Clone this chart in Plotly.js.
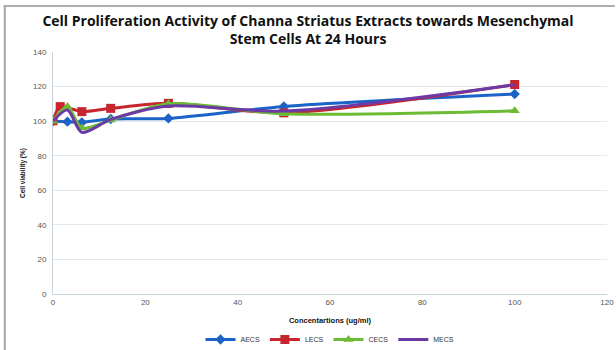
<!DOCTYPE html>
<html>
<head>
<meta charset="utf-8">
<script src="https://cdn.plot.ly/plotly-3.0.1.min.js"></script>
<style>
  html, body { margin: 0; padding: 0; background: #fff; }
  #chart { width: 616px; height: 350px; }
</style>
</head>
<body>
<div id="chart"></div>
<script>
// Concentrations (ug/ml) and cell viability (%) per extract
const aecsX = [0, 3.125, 6.25, 12.5, 25, 50, 100];
const aecsY = [100, 99.7, 99.3, 101.2, 101.6, 108.5, 115.7];

const lecsX = [0, 1.5625, 6.25, 12.5, 25, 50, 100];
const lecsY = [100.2, 108.4, 105.5, 107.4, 110.3, 104.8, 121.2];

const cecsX = [0, 3.125, 6.25, 12.5, 25, 50, 100];
const cecsY = [100, 108.4, 96, 100.6, 110, 104.3, 106];

const mecsX = [0, 3.125, 6.25, 12.5, 25, 50, 100];
const mecsY = [100, 106.5, 93.5, 101, 108.7, 105.8, 121];

const xTicks = [0, 20, 40, 60, 80, 100, 120];
const yTicks = [0, 20, 40, 60, 80, 100, 120, 140];

const seriesNames = ['AECS', 'LECS', 'CECS', 'MECS'];
const seriesColors = ['#1b63c6', '#c8262e', '#6cbb35', '#6b3aa6'];

function series(name, x, y, color, symbol, size) {
  const trace = {
    type: 'scatter',
    mode: symbol ? 'lines+markers' : 'lines',
    name: name,
    x: x,
    y: y,
    line: { color: color, width: 3, shape: 'spline', smoothing: 0.8 }
  };
  if (symbol) trace.marker = { symbol: symbol, size: size, color: color };
  return trace;
}

const data = [
  series(seriesNames[0], aecsX, aecsY, seriesColors[0], 'diamond', 8),
  series(seriesNames[1], lecsX, lecsY, seriesColors[1], 'square', 9),
  series(seriesNames[2], cecsX, cecsY, seriesColors[2], 'triangle-up', 9),
  series(seriesNames[3], mecsX, mecsY, seriesColors[3], null, 0)
];

const tickFont = { family: 'Liberation Sans, Arial, sans-serif', size: 8, color: '#555' };
const frameColor = '#a9adb1';

const layout = {
  width: 616,
  height: 350,
  margin: { l: 53, r: 9, t: 52, b: 56 },
  paper_bgcolor: '#ffffff',
  plot_bgcolor: '#ffffff',
  title: {
    text: '<b>Cell Proliferation Activity of Channa Striatus Extracts towards Mesenchymal<br>Stem Cells At 24 Hours</b>',
    font: { family: 'Open Sans, Lato, sans-serif', size: 14, color: '#111' },
    x: 0.5,
    xanchor: 'center',
    yref: 'container',
    y: 0.926,
    yanchor: 'middle'
  },
  xaxis: {
    range: [0, 120],
    tickvals: xTicks,
    ticktext: xTicks.map(String),
    showgrid: false,
    zeroline: false,
    showline: true,
    linecolor: '#c8d4dc',
    linewidth: 1,
    ticks: '',
    automargin: false,
    tickfont: tickFont,
    title: {
      text: '<b>Concentartions (ug/ml)</b>',
      font: { family: 'Liberation Sans, Arial, sans-serif', size: 7.5, color: '#111' },
      standoff: 12
    }
  },
  yaxis: {
    range: [0, 140],
    tickvals: yTicks,
    ticktext: yTicks.map(String),
    showgrid: true,
    gridcolor: '#e3e8ec',
    gridwidth: 1,
    zeroline: false,
    showline: true,
    linecolor: '#c8d4dc',
    linewidth: 1,
    ticks: '',
    automargin: false,
    ticklabelstandoff: 4,
    tickfont: tickFont,
    title: {
      text: '<b>Cell viability (%)</b>',
      font: { family: 'Liberation Sans, Arial, sans-serif', size: 6.5, color: '#111' },
      standoff: 6
    }
  },
  legend: {
    orientation: 'h',
    x: 0.5,
    xanchor: 'center',
    yref: 'container',
    y: 0.03,
    yanchor: 'middle',
    font: { family: 'Liberation Sans, Arial, sans-serif', size: 7, color: '#333' },
    itemwidth: 30,
    tracegroupgap: 0
  },
  shapes: [
    // chart-area frame: top and left edges as thin filled bands
    { type: 'rect', xref: 'paper', yref: 'paper', x0: -0.089, x1: 1.014, y0: 1.186, y1: 1.194,
      fillcolor: frameColor, line: { width: 0 } },
    { type: 'rect', xref: 'paper', yref: 'paper', x0: -0.089, x1: -0.085, y0: -0.24, y1: 1.194,
      fillcolor: frameColor, line: { width: 0 } }
  ],
  showlegend: true
};

Plotly.newPlot('chart', data, layout, { displayModeBar: false, staticPlot: true });
</script>
</body>
</html>
